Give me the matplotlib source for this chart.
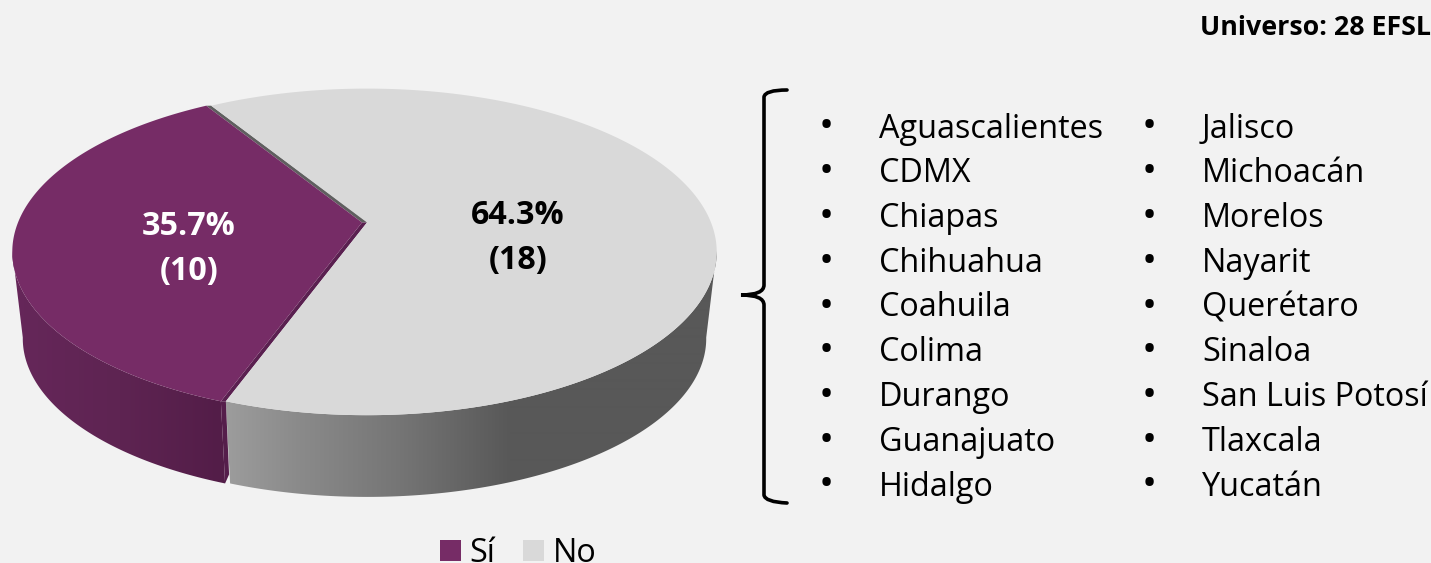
import numpy as np
import matplotlib
matplotlib.use("Agg")
import matplotlib.pyplot as plt
from matplotlib.path import Path
from matplotlib.patches import PathPatch, Polygon, Rectangle

# Datos
categorias = ["Sí", "No"]
valores = [10, 18]
etiquetas = ["35.7%\n(10)", "64.3%\n(18)"]
estados_col1 = ["Aguascalientes", "CDMX", "Chiapas", "Chihuahua", "Coahuila",
                "Colima", "Durango", "Guanajuato", "Hidalgo"]
estados_col2 = ["Jalisco", "Michoacán", "Morelos", "Nayarit", "Querétaro",
                "Sinaloa", "San Luis Potosí", "Tlaxcala", "Yucatán"]
universo = "Universo: 28 EFSL"

# Estilo
fondo = "#f2f2f2"
color_top = ["#762c66", "#d9d9d9"]
color_corte = ["#5a2050", "#5f5f5f"]
fuente = "Open Sans"

# Geometria del pie en perspectiva (en pixeles)
cx, cy = 364.5, 222.5
k, A, B = 0.18, 158.0, 344.0
cy_base, esc_base = 310.0, 0.97
despl = [-2.5, 2.5]
inicio = 121.5


def proyectar(t, dx=0.0, base=False):
    t = np.radians(t)
    u, v = np.cos(t), np.sin(t)
    s = 1 / (1 + k * v)
    x, y = B * u * s, -A * v * s
    if base:
        return cx + dx + esc_base * x, cy_base + esc_base * y
    return cx + dx + x, cy + y


def curva(t0, t1, dx, base=False):
    t = np.linspace(t0, t1, 240)
    x, y = proyectar(t, dx, base)
    return np.column_stack([x, y])


def lateral(t0, t1, dx, xs, grises):
    # cara lateral con degradado horizontal
    arriba = curva(t0, t1, dx)
    abajo = curva(t0, t1, dx, base=True)
    pts = np.vstack([arriba, abajo[::-1]])
    pol = Polygon(pts, closed=True, fc="none", ec="none")
    ax.add_patch(pol)
    col = np.array([matplotlib.colors.to_rgb(c) for c in grises])
    xx = np.arange(0, 1431)
    img = np.stack([np.interp(xx, xs, col[:, i]) for i in range(3)], axis=-1)[None, :, :]
    im = ax.imshow(img, extent=(0, 1431, 563, 0), aspect="auto", zorder=1,
                   interpolation="bilinear")
    im.set_clip_path(pol)


fig = plt.figure(figsize=(14.31, 5.63), dpi=100, facecolor=fondo)
ax = fig.add_axes([0, 0, 1, 1])
ax.set_xlim(0, 1431)
ax.set_ylim(563, 0)
ax.axis("off")

pct_si = valores[0] / sum(valores) * 360
fin = inicio + pct_si

# Caras laterales
lateral(190, fin, despl[0], [10, 120, 222], ["#66275a", "#5e2452", "#531d48"])
lateral(fin, 350, despl[1], [228, 300, 400, 510, 720],
        ["#9c9c9c", "#8a8a8a", "#757575", "#585858", "#585858"])

# Corte morado visible entre las dos rebanadas
xp, yp = proyectar(fin, despl[0])
xg, yg = proyectar(fin, despl[1])
xpb, ypb = proyectar(fin, despl[0], base=True)
xgb, ygb = proyectar(fin, despl[1], base=True)
ax.add_patch(Polygon([(xp, yp), (xpb, ypb), (xgb - 1, ygb - 9), (xg, yg)],
                     fc="#551e4b", ec="none", zorder=2))

# Cortes de las caras superiores
xp0, yp0 = proyectar(inicio, despl[0])
xg0, yg0 = proyectar(inicio, despl[1])
ax.add_patch(Polygon([(cx + despl[1] + 1, cy), (xg0, yg0), (xp0, yp0), (cx + despl[0], cy)],
                     fc=color_corte[1], ec="none", zorder=3))
ax.add_patch(Polygon([(cx + despl[1], cy), (xg, yg), (xp, yp), (cx + despl[0], cy)],
                     fc=color_corte[0], ec="none", zorder=3))

# Caras superiores
ax.add_patch(Polygon(np.vstack([[cx + despl[1], cy], curva(fin, inicio + 360, despl[1])]),
                     fc=color_top[1], ec="none", zorder=4))
ax.add_patch(Polygon(np.vstack([[cx + despl[0], cy], curva(inicio, fin, despl[0])]),
                     fc=color_top[0], ec="none", zorder=5))

# Etiquetas de las rebanadas
for etq, xt, yt, col in zip(etiquetas, [189, 518], [235, 224], ["white", "black"]):
    l1, l2 = etq.split("\n")
    ax.text(xt, yt, l1, ha="center", va="baseline", fontsize=23.2, fontweight="bold",
            family=fuente, color=col, zorder=6)
    ax.text(xt, yt + 45, l2, ha="center", va="baseline", fontsize=23.2, fontweight="bold",
            family=fuente, color=col, zorder=6)

# Llave
cod = [Path.MOVETO, Path.CURVE3, Path.CURVE3, Path.LINETO, Path.CURVE3, Path.CURVE3,
       Path.CURVE3, Path.CURVE3, Path.LINETO, Path.CURVE3, Path.CURVE3]
ver = [(787, 90), (765, 90), (764, 97), (764, 285), (764, 295), (741, 295),
       (764, 295), (764, 305), (764, 495), (765, 502), (787, 503)]
ax.add_patch(PathPatch(Path(ver, cod), fc="none", ec="black", lw=2.6, capstyle="round", zorder=6))

# Listas de estados
y0, paso = 137.5, 44.75
for estados, xb, xt in [(estados_col1, 826, 879), (estados_col2, 1149, 1202)]:
    for i, nombre in enumerate(estados):
        ax.text(xb, y0 + i * paso + 1, "•", ha="center", va="baseline", fontsize=29,
                family=fuente, color="black")
        ax.text(xt, y0 + i * paso, nombre, ha="left", va="baseline", fontsize=23.3,
                family=fuente, color="black")

ax.text(1200, 35, universo, ha="left", va="baseline", fontsize=19.3, fontweight="bold",
        family=fuente, color="black")

# Leyenda
for cat, col, xc, xt in zip(categorias, color_top, [440, 523], [469, 553]):
    ax.add_patch(Rectangle((xc, 540), 21, 21, fc=col, ec="none"))
    ax.text(xt, 562, cat, ha="left", va="baseline", fontsize=23.3, family=fuente, color="black")

fig.savefig("out.png", dpi=100, facecolor=fondo)
